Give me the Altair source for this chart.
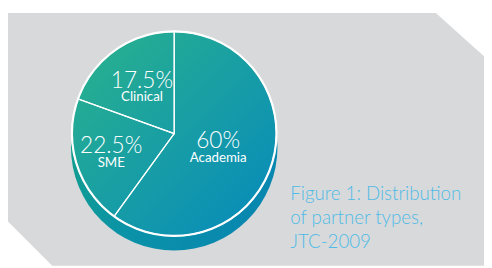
import math
import altair as alt
import pandas as pd

# ---- data ----
partner_types = ["Academia", "SME", "Clinical"]
share_drawn = [60.0, 20.5, 19.5]          # slice sizes as drawn (angles measured on the figure)
pct_labels = ["60%", "22.5%", "17.5%"]     # labels printed on the slices
title_lines = ["Figure 1: Distribution", "of partner types,", "JTC-2009"]

# decorative banner outline behind the pie (pixel units)
bg_x = [0, 45, 435, 484]
bg_top = [3, 3, 3, 47]
bg_bottom = [215, 260, 260, 260]

W, H = 484, 260
CX, CY = 169, 125.5
R = 104
DEPTH = 14

df = pd.DataFrame({"type": partner_types, "share": share_drawn,
                   "pct": pct_labels, "order": list(range(len(partner_types)))})
bg_df = pd.DataFrame({"x": bg_x, "top": bg_top, "bottom": bg_bottom})

theta_scale = alt.Scale(domain=[0, sum(share_drawn)])

grad_top = alt.Gradient(
    gradient="linear", x1=0, y1=0, x2=1, y2=1,
    stops=[alt.GradientStop(offset=0, color="#2bb38b"),
           alt.GradientStop(offset=1, color="#0589bd")])
grad_side = alt.Gradient(
    gradient="linear", x1=0, y1=0.3, x2=1, y2=0.7,
    stops=[alt.GradientStop(offset=0, color="#14a08b"),
           alt.GradientStop(offset=0.45, color="#0a92a8"),
           alt.GradientStop(offset=1, color="#0886b0")])

bg = alt.Chart(bg_df).mark_area(color="#d8d9db", interpolate="linear").encode(
    x=alt.X("x:Q", scale=alt.Scale(domain=[0, W], nice=False, zero=False), axis=None),
    y=alt.Y("top:Q", scale=alt.Scale(domain=[0, H], reverse=True, nice=False, zero=False), axis=None),
    y2="bottom:Q",
)

one = alt.Data(values=[{}])
side = alt.Chart(one).mark_arc(theta=0, theta2=2 * math.pi, outerRadius=R + 1,
                               fill=grad_side).encode(
    x=alt.value(CX), y=alt.value(CY + DEPTH))
top = alt.Chart(one).mark_arc(theta=0, theta2=2 * math.pi, outerRadius=R,
                              fill=grad_top, stroke="white", strokeWidth=2.2).encode(
    x=alt.value(CX), y=alt.value(CY))

slices = alt.Chart(df).mark_arc(outerRadius=R, fill="white", fillOpacity=0,
                                stroke="white", strokeWidth=1.2).encode(
    theta=alt.Theta("share:Q", stack=True, scale=theta_scale),
    order=alt.Order("order:Q"),
    x=alt.value(CX), y=alt.value(CY),
)

lab = alt.Chart(df).transform_window(
    cum="sum(share)", sort=[alt.SortField("order")], frame=[None, 0]
).transform_calculate(
    mid="datum.cum - datum.share / 2",
    lr="datum.type === 'Academia' ? 47 : (datum.type === 'SME' ? 67 : 57)",
)
pct = lab.mark_text(font="Lato", fontWeight=300, fontSize=23, color="white",
                    align="center", baseline="alphabetic").encode(
    theta=alt.Theta("mid:Q", stack=None, scale=theta_scale),
    radius=alt.Radius("lr:Q", scale=None),
    text="pct:N",
    x=alt.value(CX), y=alt.value(CY),
)
names = lab.mark_text(font="Lato", fontWeight=400, fontSize=13.5, color="white",
                      align="center", baseline="alphabetic", dy=14).encode(
    theta=alt.Theta("mid:Q", stack=None, scale=theta_scale),
    radius=alt.Radius("lr:Q", scale=None),
    text="type:N",
    x=alt.value(CX), y=alt.value(CY),
)

title = alt.Chart(one).mark_text(text=title_lines, font="Lato", fontWeight=300,
                                 fontSize=19, color="#4fbbe6", align="left",
                                 baseline="alphabetic", lineHeight=24.5).encode(
    x=alt.value(287), y=alt.value(193))

chart = alt.layer(bg, side, top, slices, pct, names, title).properties(
    width=W, height=H, padding=0,
    autosize=alt.AutoSizeParams(type="none"),
    background="white",
).configure_view(stroke=None)

chart.save("out.html", embed_options={"renderer": "svg", "actions": False})
